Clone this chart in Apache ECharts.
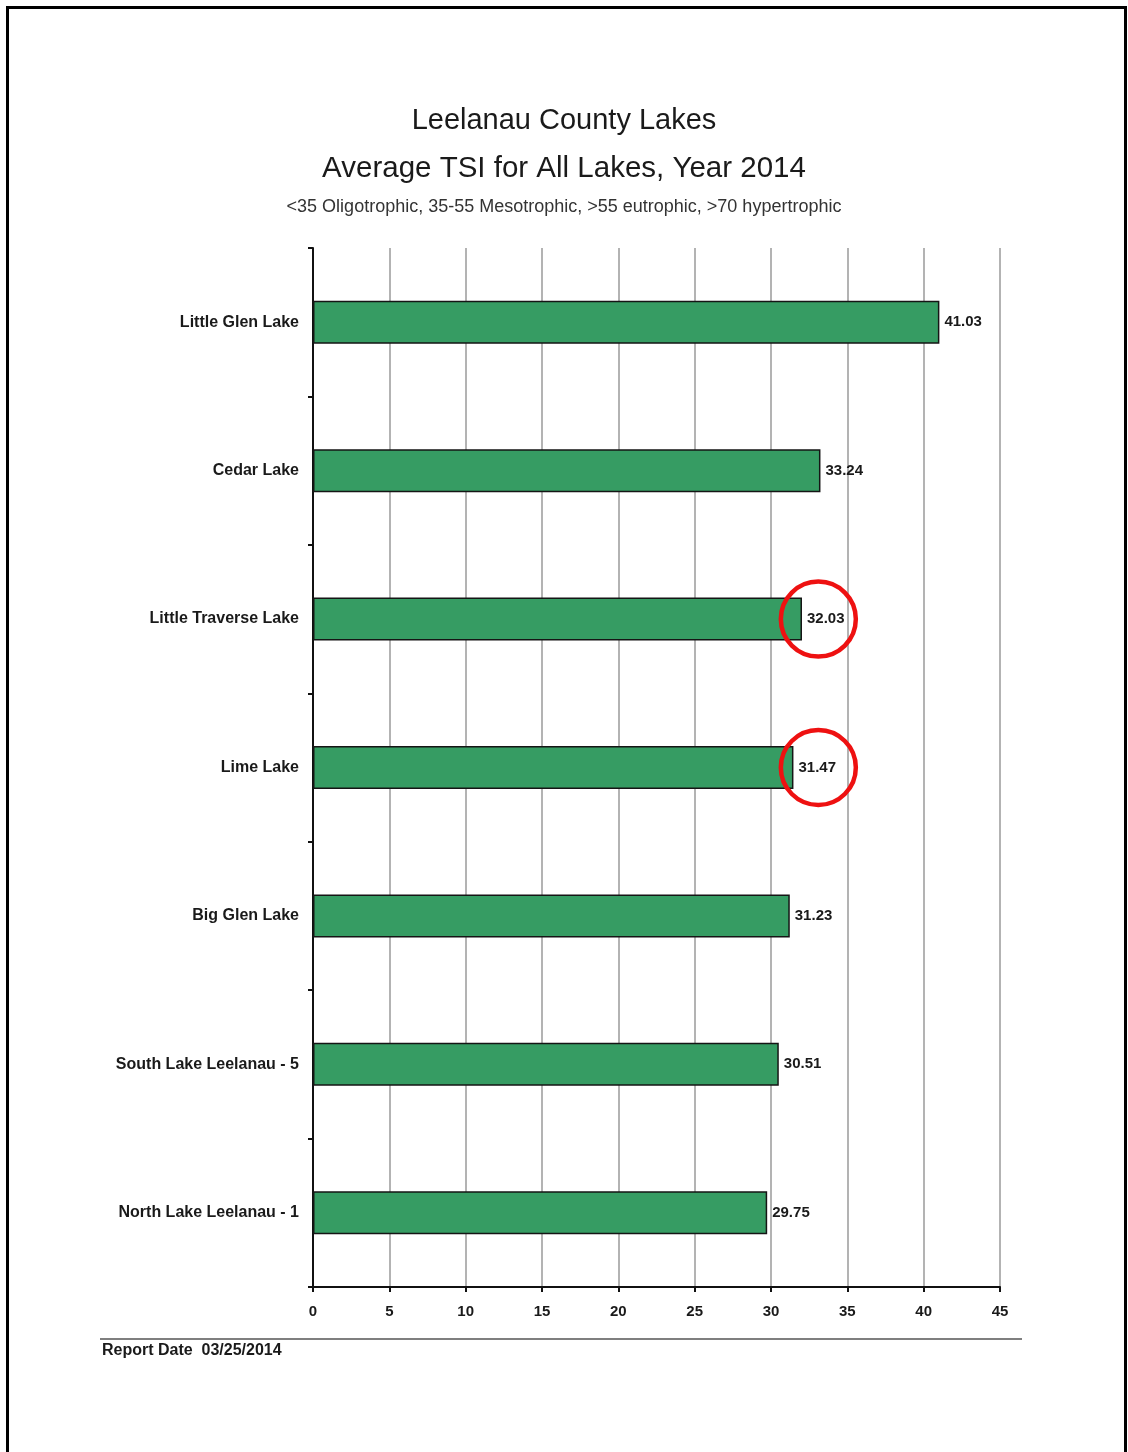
<!DOCTYPE html>
<html>
<head>
<meta charset="utf-8">
<title>Leelanau County Lakes - Average TSI 2014</title>
<script src="https://cdn.jsdelivr.net/npm/echarts@6/dist/echarts.min.js"></script>
<style>
  html, body { margin: 0; padding: 0; background: #ffffff; }
  #chart { width: 1128px; height: 1452px; }
</style>
</head>
<body>
<div id="chart"></div>
<script>
// Lakes, listed top to bottom
const lakes = [
  'Little Glen Lake',
  'Cedar Lake',
  'Little Traverse Lake',
  'Lime Lake',
  'Big Glen Lake',
  'South Lake Leelanau - 5',
  'North Lake Leelanau - 1'
];
// Average trophic state index per lake
const tsiValues = [41.03, 33.24, 32.03, 31.47, 31.23, 30.51, 29.75];
// Lakes circled in red for attention
const circledLakes = ['Little Traverse Lake', 'Lime Lake'];
const circleAt = 33.1;

const xTicks = { min: 0, max: 45, interval: 5 };

const titleText = 'Leelanau County Lakes';
const subtitleText = 'Average TSI for All Lakes, Year 2014';
const noteText = '<35 Oligotrophic, 35-55 Mesotrophic, >55 eutrophic, >70 hypertrophic';
const reportDate = 'Report Date  03/25/2014';

const FONT = '"Liberation Sans", Arial, Helvetica, sans-serif';
const INK = '#1a1a1a';

const chart = echarts.init(document.getElementById('chart'), null, { renderer: 'canvas' });

chart.setOption({
  backgroundColor: '#ffffff',
  animation: false,
  title: [
    { text: titleText, left: 'center', top: 101,
      textStyle: { fontFamily: FONT, fontSize: 29, fontWeight: 'normal', color: INK } },
    { text: subtitleText, left: 'center', top: 149,
      textStyle: { fontFamily: FONT, fontSize: 29.5, fontWeight: 'normal', color: INK } },
    { text: noteText, left: 'center', top: 193,
      textStyle: { fontFamily: FONT, fontSize: 18, fontWeight: 'normal', color: '#333' } }
  ],
  grid: { left: 313, right: 128, top: 248, bottom: 165, containLabel: false },
  xAxis: {
    type: 'value',
    min: xTicks.min, max: xTicks.max, interval: xTicks.interval,
    axisLine: { show: true, onZero: false, lineStyle: { color: '#111', width: 2 } },
    axisTick: { show: true, length: 5, lineStyle: { color: '#111', width: 2 } },
    axisLabel: { margin: 17, fontFamily: FONT, fontSize: 15, fontWeight: 'bold', color: INK },
    splitLine: { show: true, lineStyle: { color: '#9a9a9a', width: 1.5 } }
  },
  yAxis: {
    type: 'category',
    data: lakes,
    inverse: true,
    axisLine: { show: true, lineStyle: { color: '#111', width: 2 } },
    axisTick: { show: true, length: 5, lineStyle: { color: '#111', width: 2 } },
    axisLabel: { margin: 14, fontFamily: FONT, fontSize: 16, fontWeight: 'bold', color: INK },
    splitLine: { show: false }
  },
  series: [{
    type: 'bar',
    data: tsiValues,
    barWidth: 43,
    itemStyle: { color: '#369c63', borderColor: '#151515', borderWidth: 1.5 },
    label: {
      show: true, position: 'right', distance: 5,
      fontFamily: FONT, fontSize: 15, fontWeight: 'bold', color: INK,
      formatter: p => p.value.toFixed(2)
    },
    markPoint: {
      symbol: 'circle',
      symbolSize: 75,
      silent: true,
      label: { show: false },
      itemStyle: { color: 'rgba(0,0,0,0)', borderColor: '#ee1111', borderWidth: 4.5 },
      data: circledLakes.map(name => ({ coord: [circleAt, name] }))
    }
  }],
  graphic: [
    // page frame
    { type: 'polyline', silent: true,
      shape: { points: [[7.5, 1452], [7.5, 7.5], [1125.5, 7.5], [1125.5, 1452]] },
      style: { stroke: '#000', lineWidth: 3, fill: null } },
    // footer rule
    { type: 'line', silent: true,
      shape: { x1: 100, y1: 1339, x2: 1022, y2: 1339 },
      style: { stroke: '#555', lineWidth: 1.5 } },
    { type: 'text', silent: true, left: 102, top: 1343,
      style: { text: reportDate, font: 'bold 16px ' + FONT, fill: INK } }
  ]
});
</script>
</body>
</html>
